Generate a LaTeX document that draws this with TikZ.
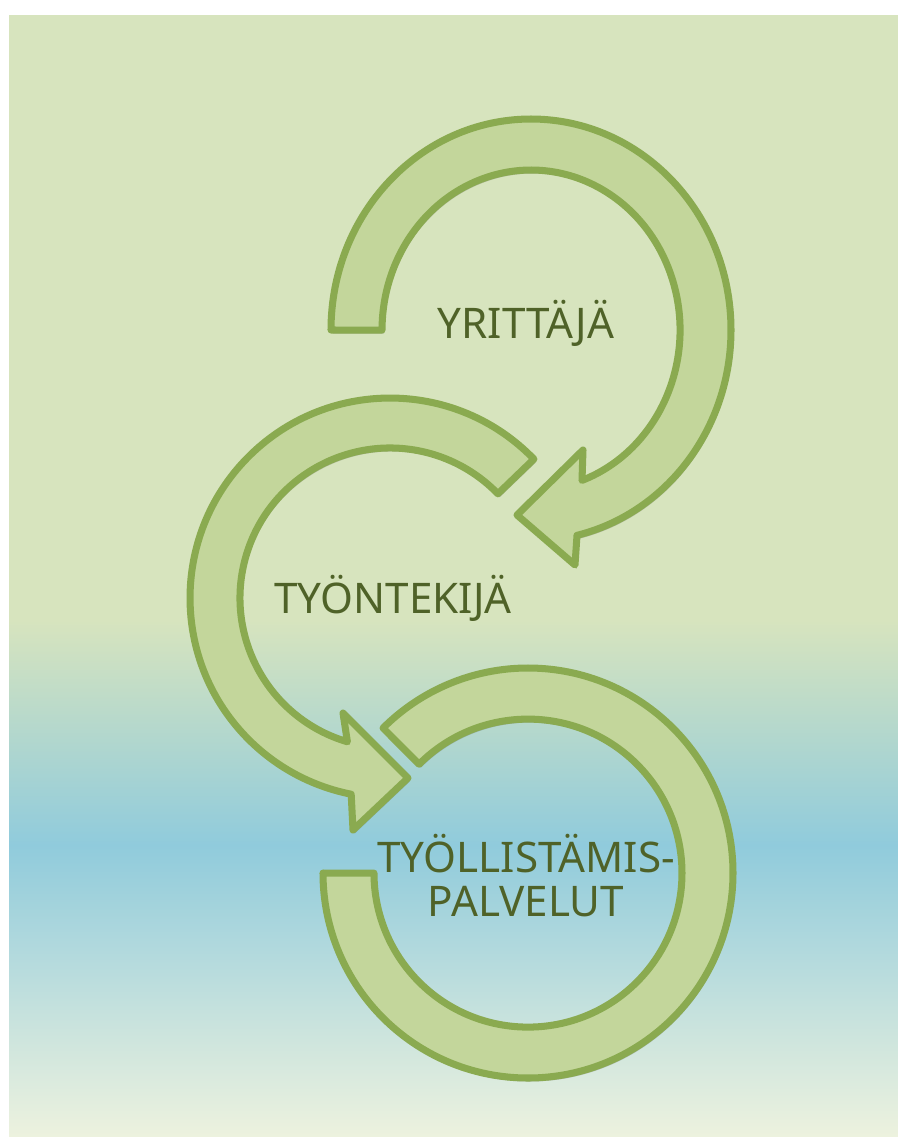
\documentclass[tikz,border=0pt]{standalone}
\usepackage{fontspec}
\setmainfont{Noto Sans}
\usetikzlibrary{shadows}

\definecolor{bandfill}{RGB}{195,214,155}
\definecolor{bandline}{RGB}{138,170,80}
\definecolor{wordcol}{RGB}{79,98,40}
\definecolor{bggreen}{RGB}{215,228,190}
\definecolor{bgblue}{RGB}{144,203,220}
\definecolor{bgcream}{RGB}{237,242,222}

\begin{document}
\begin{tikzpicture}[x=0.02cm, y=0.02cm,
    band/.style = {fill=bandfill, draw=bandline, line width=4pt, line join=round,
                   drop shadow={shadow xshift=1pt, shadow yshift=-2pt, opacity=0.25, fill=black!70}},
    word/.style = {text=wordcol, font=\fontsize{24}{25}\selectfont, align=center, inner sep=0pt}]
    \useasboundingbox (0,0) rectangle (898,-1137);
    \fill[white] (0,0) rectangle (898,-1137);
    \fill[bggreen] (9,-15) rectangle (898,-620);
    \shade[top color=bggreen, bottom color=bgblue] (9,-620) rectangle (898,-845);
    \shade[top color=bgblue, bottom color=bgcream] (9,-845) rectangle (898,-1137);

    \draw[band] (331,-330) arc[start angle=180, end angle=-76.7, x radius=200, y radius=211]
        -- (575,-565) -- (517,-515) -- (583,-450) -- (582,-480.4)
        arc[start angle=-70, end angle=180, x radius=149, y radius=160] -- cycle;
    \draw[band] (533.9,-459.1) arc[start angle=44, end angle=258.8, radius=200]
        -- (353,-830) -- (408,-778) -- (343,-713) -- (347.4,-741.8)
        arc[start angle=253.5, end angle=44, radius=150] -- cycle;
    \draw[band] (323,-873) arc[start angle=180, end angle=495, radius=205]
        -- (419.1,-764.2) arc[start angle=135, end angle=-180, radius=154] -- cycle;

    \node[word] (yrittaja) at (526,-323) {YRITTÄJÄ};
    \node[word] (tyontekija) at (393,-598) {TYÖNTEKIJÄ};
    \node[word] (palvelut) at (526,-876) {TYÖLLISTÄMIS-\\PALVELUT};
\end{tikzpicture}
\end{document}
